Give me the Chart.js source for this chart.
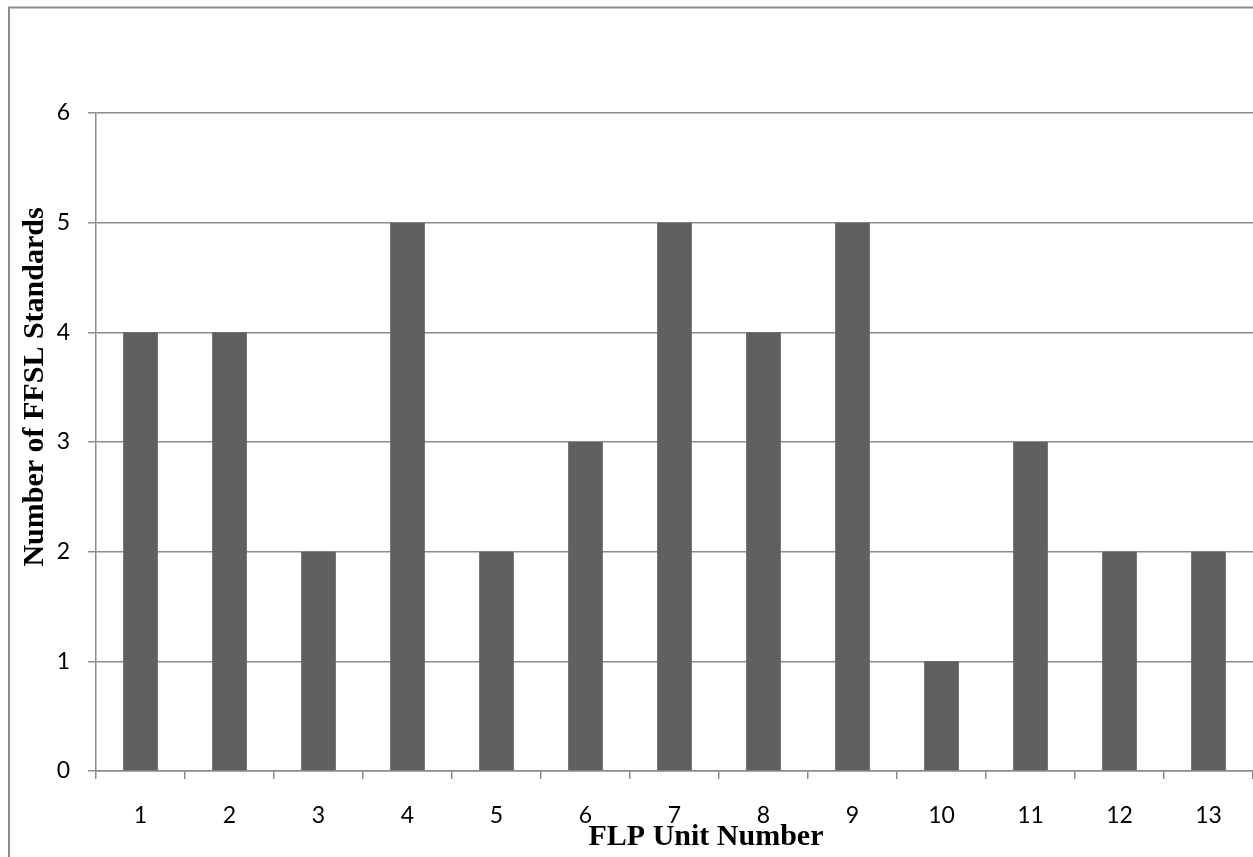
<!DOCTYPE html>
<html>
<head>
<meta charset="utf-8">
<script src="https://cdn.jsdelivr.net/npm/chart.js@4/dist/chart.umd.min.js"></script>
<style>
  html, body { margin: 0; padding: 0; background: #fff; overflow: hidden; }
  #wrap { position: absolute; left: 0; top: 0; width: 1253px; height: 857px; }
</style>
</head>
<body>
<div id="wrap"><canvas id="c" width="1253" height="857"></canvas></div>
<script>
const categories = ['1','2','3','4','5','6','7','8','9','10','11','12','13'];
const standardsCount = [4, 4, 2, 5, 2, 3, 5, 4, 5, 1, 3, 2, 2];
const yTicks = [0, 1, 2, 3, 4, 5, 6];
const xTitle = 'FLP Unit Number';
const yTitle = 'Number of FFSL Standards';

const frameAndTitles = {
  id: 'frameAndTitles',
  afterDraw(chart) {
    const ctx = chart.ctx;
    ctx.save();
    ctx.strokeStyle = '#8c8c8c';
    ctx.lineWidth = 2;
    ctx.strokeRect(9, 7.5, 3000, 3000);
    ctx.fillStyle = '#000';
    ctx.font = 'bold 30px "Liberation Serif", "Times New Roman", serif';
    ctx.textAlign = 'center';
    ctx.textBaseline = 'alphabetic';
    ctx.fillText(xTitle, 706, 845);
    ctx.translate(43, 387);
    ctx.rotate(-Math.PI / 2);
    ctx.fillText(yTitle, 0, 0);
    ctx.restore();
  }
};

new Chart(document.getElementById('c'), {
  type: 'bar',
  data: {
    labels: categories,
    datasets: [{
      data: standardsCount,
      backgroundColor: '#606060',
      borderWidth: 0,
      categoryPercentage: 1,
      barPercentage: 0.39
    }]
  },
  options: {
    responsive: false,
    animation: false,
    devicePixelRatio: 1,
    layout: { padding: { top: 113, left: 0, right: 0, bottom: 0 } },
    plugins: { legend: { display: false }, tooltip: { enabled: false } },
    scales: {
      x: {
        offset: true,
        grid: { offset: true, drawOnChartArea: false, drawTicks: true, tickLength: 8, color: '#8c8c8c', lineWidth: 1.5 },
        border: { display: true, color: '#8c8c8c', width: 1.5 },
        ticks: { color: '#000', font: { family: 'Lato, "Open Sans", sans-serif', size: 23 }, padding: 23, maxRotation: 0 },
        afterFit(scale) { scale.height = 86; }
      },
      y: {
        min: 0,
        max: 6,
        afterBuildTicks(scale) { scale.ticks = yTicks.map(v => ({ value: v })); },
        grid: { drawOnChartArea: true, drawTicks: true, tickLength: 8, color: '#8c8c8c', lineWidth: 1.5 },
        border: { display: true, color: '#8c8c8c', width: 1.5 },
        ticks: { color: '#000', font: { family: 'Lato, "Open Sans", sans-serif', size: 23 }, padding: 18 },
        afterFit(scale) { scale.width = 96; }
      }
    }
  },
  plugins: [frameAndTitles]
});
</script>
</body>
</html>
